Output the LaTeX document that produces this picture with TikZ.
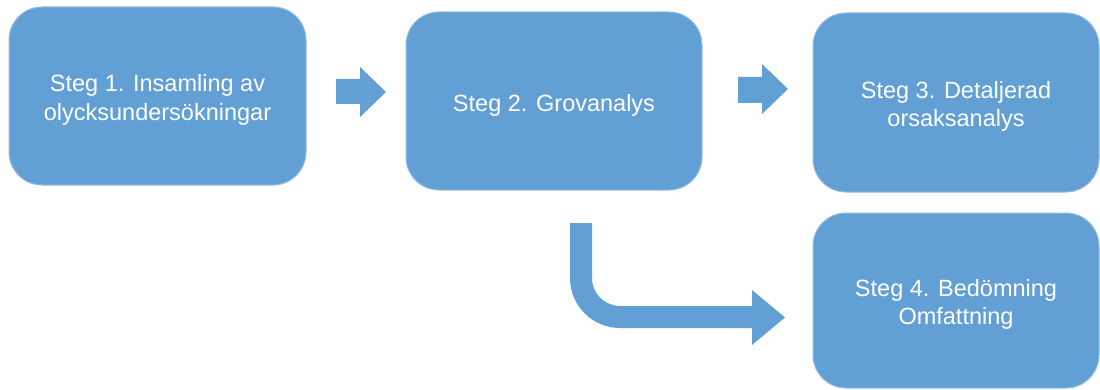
\documentclass[tikz,border=0pt]{standalone}
\usepackage{fontspec}
\setmainfont{Liberation Sans}
\definecolor{boxfill}{RGB}{98,159,213}
\definecolor{boxline}{RGB}{150,190,226}
\begin{document}
\begin{tikzpicture}[x=1pt,y=1pt,
  stepbox/.style={draw=boxline, line width=1pt, fill=boxfill, rounded corners=33pt, inner sep=0pt},
  steptext/.style={text=white, align=center, font=\fontsize{23.5}{28.5}\selectfont, inner sep=0pt, yshift=-4pt},
  blockarrow/.style={fill=boxfill, draw=none}]
\useasboundingbox (0,0) rectangle (1100,389);
\node[stepbox, minimum width=297pt, minimum height=178pt,
  label={[steptext]center:{Steg 1. Insamling av\\olycksundersökningar}}] (b1) at (157.5,293) {};
\node[stepbox, minimum width=296pt, minimum height=178pt,
  label={[steptext]center:{Steg 2. Grovanalys}}] (b2) at (554,288) {};
\node[stepbox, minimum width=286pt, minimum height=179pt,
  label={[steptext]center:{Steg 3. Detaljerad\\orsaksanalys}}] (b3) at (956,286.5) {};
\node[stepbox, minimum width=286pt, minimum height=175pt,
  label={[steptext]center:{Steg 4. Bedömning\\Omfattning}}] (b4) at (956,88.5) {};
% straight arrows
\fill[blockarrow] (336,310) -- (360,310) -- (360,322) -- (386,297) -- (360,272) -- (360,285) -- (336,285) -- cycle;
\fill[blockarrow] (738,312) -- (762,312) -- (762,325) -- (788,300) -- (762,275) -- (762,286) -- (738,286) -- cycle;
% bent arrow
\fill[blockarrow] (570,166) -- (592,166) -- (592,111) arc[start angle=180, end angle=270, radius=28]
  -- (752,83) -- (752,99) -- (785,71.5) -- (752,44) -- (752,61) -- (620,61)
  arc[start angle=270, end angle=180, radius=50] -- cycle;
\end{tikzpicture}
\end{document}
